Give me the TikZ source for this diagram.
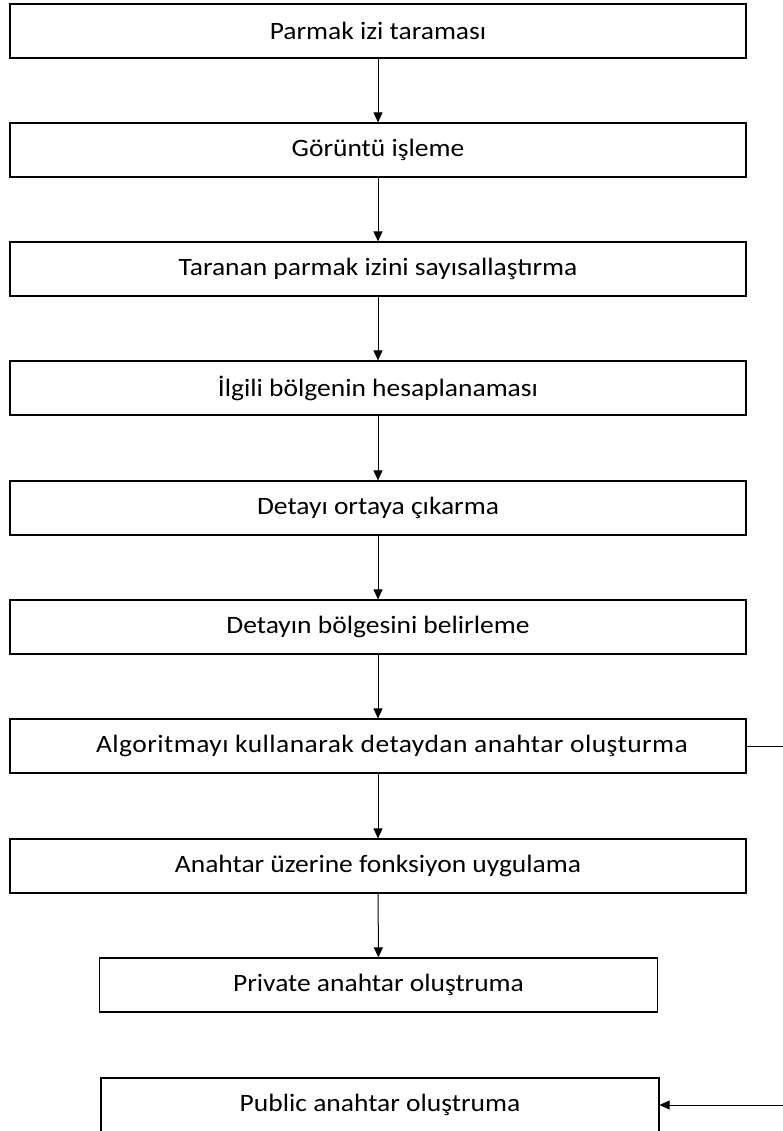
\documentclass[tikz,border=0pt]{standalone}
\usepackage{fontspec}
\setmainfont{Carlito}[FakeStretch=1.1]
\usetikzlibrary{arrows.meta}

\begin{document}
\begin{tikzpicture}[x=1bp, y=-1bp]
  \tikzstyle{box}=[draw, line width=1.2bp, minimum width=736bp, minimum height=54bp, inner sep=0pt, fill=white, font=\fontsize{25bp}{30bp}\selectfont]
  \tikzstyle{small}=[minimum width=558bp]
  \tikzstyle{arrow}=[line width=1bp, -{Triangle[length=10bp, width=9bp]}]

  \useasboundingbox (0,0) rectangle (783,1131);

  \node[box]        (1)  at (378, 31)   {Parmak izi taraması};
  \node[box]        (2)  at (378, 150)  {Görüntü işleme};
  \node[box]        (3)  at (378, 269)  {Taranan parmak izini sayısallaştırma};
  \node[box]        (4)  at (378, 388)  {İlgili bölgenin hesaplanaması};
  \node[box]        (5)  at (378, 508)  {Detayı ortaya çıkarma};
  \node[box]        (6)  at (378, 627)  {Detayın bölgesini belirleme};
  \node[box]        (7)  at (378, 746)  {\addfontfeature{LetterSpace=1.8}\hspace{28bp}Algoritmayı kullanarak detaydan anahtar oluşturma};
  \node[box]        (8)  at (378, 866)  {Anahtar üzerine fonksiyon uygulama};
  \node[box, small] (9)  at (378.5, 985) {Private anahtar oluştruma};
  \node[box, small] (10) at (380, 1105) {Public anahtar oluştruma};

  \coordinate (r1) at (783, 746);
  \coordinate (r2) at (783, 1105);

  \path[arrow] (1) edge (2);
  \path[arrow] (2) edge (3);
  \path[arrow] (3) edge (4);
  \path[arrow] (4) edge (5);
  \path[arrow] (5) edge (6);
  \path[arrow] (6) edge (7);
  \path[arrow] (7) edge (8);
  \path[arrow] (8) edge (9);
  \draw[line width=1bp] (7) -- (r1);
  \draw[arrow] (r2) -- (10);
\end{tikzpicture}
\end{document}
